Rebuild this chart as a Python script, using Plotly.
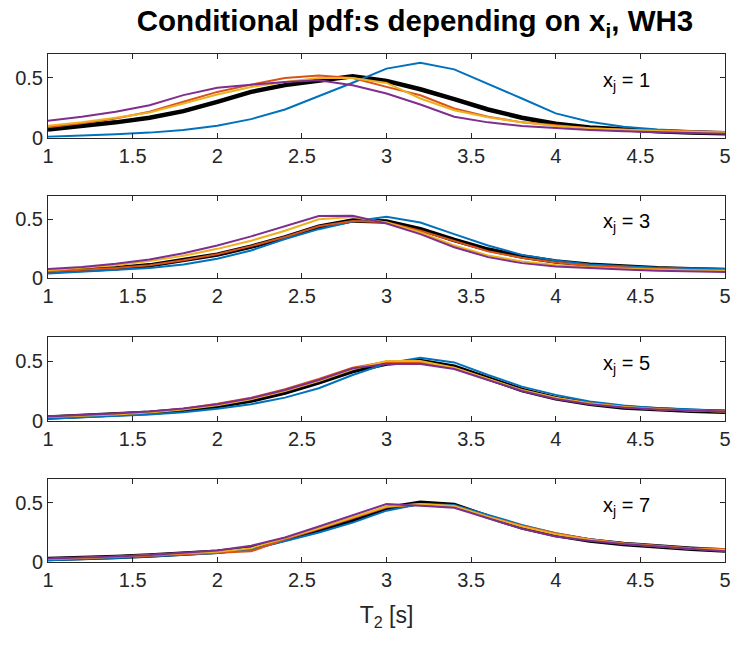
import plotly.graph_objects as go

# T2 grid
t2 = [1.0, 1.2, 1.4, 1.6, 1.8, 2.0, 2.2, 2.4, 2.6, 2.8, 3.0,
      3.2, 3.4, 3.6, 3.8, 4.0, 4.2, 4.4, 4.6, 4.8, 5.0]

# x_j = 1
p1_black = [0.069, 0.097, 0.128, 0.167, 0.222, 0.30, 0.383, 0.44, 0.48, 0.514, 0.475,
            0.405, 0.322, 0.236, 0.167, 0.117, 0.086, 0.067, 0.053, 0.044, 0.036]
p1_blue = [0.008, 0.017, 0.028, 0.042, 0.064, 0.10, 0.155, 0.236, 0.347, 0.46, 0.578,
           0.628, 0.572, 0.453, 0.328, 0.203, 0.133, 0.092, 0.069, 0.056, 0.044]
p1_orange = [0.086, 0.12, 0.161, 0.217, 0.30, 0.383, 0.444, 0.50, 0.52, 0.50, 0.425,
             0.355, 0.244, 0.175, 0.128, 0.10, 0.078, 0.067, 0.058, 0.053, 0.047]
p1_yellow = [0.10, 0.128, 0.167, 0.211, 0.286, 0.361, 0.425, 0.467, 0.50, 0.50, 0.458,
             0.328, 0.23, 0.17, 0.128, 0.097, 0.078, 0.064, 0.056, 0.05, 0.044]
p1_purple = [0.142, 0.175, 0.217, 0.272, 0.356, 0.417, 0.444, 0.467, 0.48, 0.439, 0.37,
             0.278, 0.175, 0.128, 0.097, 0.078, 0.064, 0.053, 0.044, 0.039, 0.033]

# x_j = 3
p2_black = [0.056, 0.067, 0.084, 0.109, 0.15, 0.20, 0.268, 0.346, 0.436, 0.49, 0.48,
            0.416, 0.324, 0.243, 0.184, 0.142, 0.115, 0.095, 0.084, 0.075, 0.07]
p2_blue = [0.039, 0.053, 0.067, 0.087, 0.117, 0.165, 0.235, 0.332, 0.416, 0.48, 0.52,
           0.472, 0.374, 0.277, 0.198, 0.151, 0.117, 0.10, 0.089, 0.084, 0.078]
p2_orange = [0.058, 0.069, 0.086, 0.111, 0.152, 0.203, 0.272, 0.35, 0.44, 0.485, 0.475,
             0.402, 0.313, 0.229, 0.173, 0.134, 0.106, 0.089, 0.078, 0.07, 0.064]
p2_yellow = [0.067, 0.087, 0.109, 0.145, 0.19, 0.249, 0.318, 0.402, 0.50, 0.52, 0.472,
             0.388, 0.277, 0.193, 0.142, 0.112, 0.092, 0.081, 0.073, 0.067, 0.064]
p2_purple = [0.078, 0.095, 0.123, 0.159, 0.212, 0.277, 0.355, 0.444, 0.528, 0.53, 0.464,
             0.374, 0.263, 0.179, 0.128, 0.10, 0.084, 0.073, 0.064, 0.059, 0.053]

# x_j = 5
p3_black = [0.028, 0.039, 0.05, 0.067, 0.089, 0.122, 0.169, 0.236, 0.322, 0.417, 0.48,
            0.50, 0.453, 0.356, 0.258, 0.189, 0.142, 0.111, 0.094, 0.083, 0.075]
p3_blue = [0.017, 0.028, 0.039, 0.053, 0.072, 0.10, 0.139, 0.194, 0.272, 0.383, 0.48,
           0.528, 0.489, 0.383, 0.286, 0.217, 0.161, 0.128, 0.106, 0.092, 0.083]
p3_orange = [0.033, 0.044, 0.058, 0.075, 0.1, 0.142, 0.194, 0.264, 0.35, 0.444, 0.494,
             0.489, 0.444, 0.35, 0.253, 0.189, 0.144, 0.114, 0.097, 0.086, 0.078]
p3_yellow = [0.031, 0.039, 0.053, 0.069, 0.094, 0.131, 0.181, 0.25, 0.333, 0.431, 0.50,
             0.50, 0.444, 0.35, 0.258, 0.194, 0.147, 0.117, 0.097, 0.086, 0.078]
p3_purple = [0.036, 0.047, 0.061, 0.078, 0.103, 0.139, 0.189, 0.258, 0.342, 0.439, 0.475,
             0.475, 0.433, 0.342, 0.25, 0.183, 0.139, 0.111, 0.094, 0.086, 0.078]

# x_j = 7
p4_black = [0.028, 0.033, 0.044, 0.058, 0.072, 0.089, 0.119, 0.189, 0.267, 0.356, 0.453,
            0.50, 0.48, 0.383, 0.294, 0.228, 0.183, 0.153, 0.131, 0.114, 0.10]
p4_blue = [0.017, 0.025, 0.036, 0.05, 0.064, 0.078, 0.106, 0.175, 0.25, 0.333, 0.433,
           0.489, 0.48, 0.397, 0.314, 0.244, 0.194, 0.161, 0.139, 0.119, 0.106]
p4_orange = [0.028, 0.033, 0.044, 0.056, 0.069, 0.078, 0.092, 0.194, 0.278, 0.369, 0.461,
             0.489, 0.467, 0.383, 0.306, 0.244, 0.194, 0.161, 0.139, 0.119, 0.111]
p4_yellow = [0.028, 0.036, 0.047, 0.061, 0.075, 0.089, 0.119, 0.203, 0.286, 0.378, 0.467,
             0.489, 0.472, 0.383, 0.3, 0.236, 0.189, 0.156, 0.133, 0.114, 0.103]
p4_purple = [0.033, 0.039, 0.05, 0.061, 0.078, 0.10, 0.139, 0.208, 0.30, 0.397, 0.489,
             0.475, 0.458, 0.369, 0.281, 0.217, 0.181, 0.153, 0.131, 0.111, 0.092]

panels = [
    (p1_black, p1_blue, p1_orange, p1_yellow, p1_purple, 'x<sub>j</sub> = 1'),
    (p2_black, p2_blue, p2_orange, p2_yellow, p2_purple, 'x<sub>j</sub> = 3'),
    (p3_black, p3_blue, p3_orange, p3_yellow, p3_purple, 'x<sub>j</sub> = 5'),
    (p4_black, p4_blue, p4_orange, p4_yellow, p4_purple, 'x<sub>j</sub> = 7'),
]

colors = ['#0072BD', '#D95319', '#EDB120', '#7E2F8E']

W, H = 741, 652
# pixel (top, bottom) of each axes box
boxes = [(55, 140), (199, 283), (343, 428), (487, 572)]

FAM = 'Liberation Sans, Arial, sans-serif'
tickfont = dict(family=FAM, size=20, color='#262626')

fig = go.Figure()

for i, (blk, b, o, yl, pu, label) in enumerate(panels):
    n = '' if i == 0 else str(i + 1)
    xa, ya = 'x' + n, 'y' + n
    fig.add_trace(go.Scatter(x=t2, y=blk, mode='lines', xaxis=xa, yaxis=ya,
                             line=dict(color='black', width=4.5), showlegend=False))
    for ser, c in zip([b, o, yl, pu], colors):
        fig.add_trace(go.Scatter(x=t2, y=ser, mode='lines', xaxis=xa, yaxis=ya,
                                 line=dict(color=c, width=2), showlegend=False))

    top, bot = boxes[i]
    axis_common = dict(showline=True, linecolor='#262626', linewidth=1, mirror='ticks',
                       ticks='inside', ticklen=5, tickcolor='#262626', showgrid=False,
                       zeroline=False, tickfont=tickfont)
    fig.layout['xaxis' + n] = dict(axis_common, domain=[0, 1], anchor=ya, range=[1, 5],
                                   tickvals=[1, 1.5, 2, 2.5, 3, 3.5, 4, 4.5, 5],
                                   ticktext=['1', '1.5', '2', '2.5', '3', '3.5', '4', '4.5', '5'])
    fig.layout['yaxis' + n] = dict(axis_common, domain=[1 - bot / H, 1 - top / H], anchor=xa,
                                   range=[0, 0.7], tickvals=[0, 0.5], ticktext=['0', '0.5'])
    fig.add_annotation(x=4.42, y=0.47, xref=xa, yref=ya, text=label, showarrow=False,
                       xanchor='center', yanchor='middle',
                       font=dict(family=FAM, size=20, color='black'))

fig.layout['xaxis4']['title'] = dict(text='T<sub>2</sub> [s]', standoff=16,
                                     font=dict(family=FAM, size=23, color='#262626'))

fig.update_layout(
    width=W, height=H,
    margin=dict(l=48, r=16, t=0, b=0),
    paper_bgcolor='white', plot_bgcolor='white',
    title=dict(text='<b>Conditional pdf:s depending on x<sub>i</sub>, WH3</b>',
               x=415 / W, xanchor='center', y=1 - 21 / H, yanchor='middle',
               font=dict(family=FAM, size=29.5, color='black')),
)

# drop the default page margin so the figure sits at the window origin
fig.write_html('out.html', config={'displayModeBar': False},
               post_script="document.body.style.margin='0';")
